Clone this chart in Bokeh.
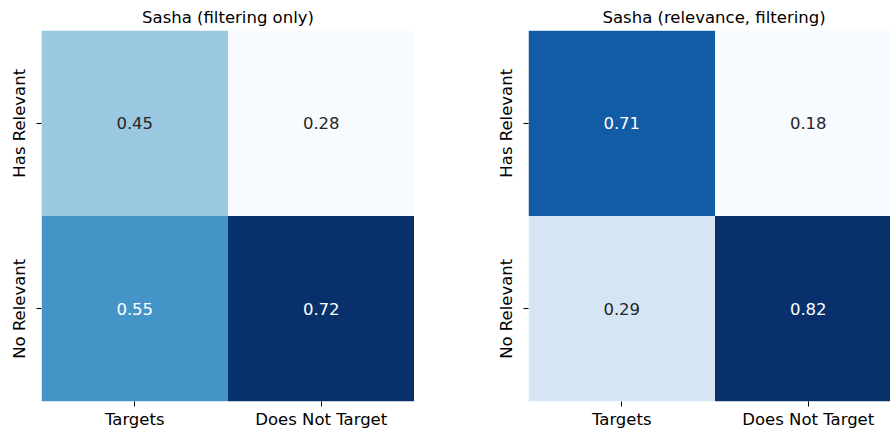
from bokeh.plotting import figure
from bokeh.layouts import row
from bokeh.models import LinearColorMapper, FixedTicker, Range1d, ColumnDataSource
from bokeh.palettes import Blues256
from bokeh.transform import transform
from bokeh.embed import file_html
from bokeh.resources import INLINE
from bokeh.core.properties import value

x_labels = ["Targets", "Does Not Target"]
y_labels = ["Has Relevant", "No Relevant"]

left_title = "Sasha (filtering only)"
left_values = [[0.45, 0.28],
               [0.55, 0.72]]

right_title = "Sasha (relevance, filtering)"
right_values = [[0.71, 0.18],
                [0.29, 0.82]]

FONT = "DejaVu Sans"
FS = "16.5px"
DARK = "#262626"


def make(values, title, x_end, border_left, frame_width, title_align, title_offset):
    xs, ys, vs, labels, tcolors = [], [], [], [], []
    flat = [v for r in values for v in r]
    lo, hi = min(flat), max(flat)
    for i, r in enumerate(values):
        for j, v in enumerate(r):
            xs.append(j)
            ys.append(i)
            vs.append(v)
            labels.append(f"{v:.2f}")
            tcolors.append("white" if (v - lo) / (hi - lo) > 0.5 else DARK)
    src = ColumnDataSource(dict(x=xs, y=ys, v=vs, label=labels, tc=tcolors))
    mapper = LinearColorMapper(palette=list(reversed(Blues256)), low=lo, high=hi)

    p = figure(x_range=Range1d(-0.5, x_end), y_range=Range1d(1.5, -0.5),
               frame_width=frame_width, frame_height=371,
               min_border_left=border_left, min_border_right=0,
               min_border_top=30, min_border_bottom=28,
               toolbar_location=None, output_backend="svg", tools="")
    p.rect(x="x", y="y", width=1, height=1, source=src,
           fill_color=transform("v", mapper), line_color=None)
    p.text(x="x", y="y", text="label", source=src, text_color="tc",
           text_align="center", text_baseline="middle",
           text_font=value(FONT), text_font_size=FS)

    p.title.text = title
    p.title.text_font = FONT
    p.title.text_font_size = FS
    p.title.text_font_style = "normal"
    p.title.text_color = "black"
    p.title.align = title_align
    p.title.offset = title_offset
    p.title.standoff = 6
    p.title.vertical_align = "middle"

    p.xgrid.visible = False
    p.ygrid.visible = False
    p.outline_line_color = None

    p.xaxis.ticker = FixedTicker(ticks=[0, 1])
    p.xaxis.major_label_overrides = {0: x_labels[0], 1: x_labels[1]}
    p.yaxis.ticker = FixedTicker(ticks=[0, 1])
    p.yaxis.major_label_overrides = {0: y_labels[0], 1: y_labels[1]}
    p.yaxis.major_label_orientation = "vertical"
    for ax in (p.xaxis, p.yaxis):
        ax.axis_line_color = None
        ax.major_tick_in = 0
        ax.major_tick_out = 5
        ax.major_tick_line_color = "black"
        ax.minor_tick_line_color = None
        ax.major_label_text_font = FONT
        ax.major_label_text_font_size = FS
        ax.major_label_text_color = "black"
        ax.major_label_standoff = 3
    p.yaxis.major_label_standoff = 8
    return p


p1 = make(left_values, left_title, 1.5, 41, 373, "center", 0)
p2 = make(right_values, right_title, -0.5 + 362 / 186.5, 114, 362, "left", 74)

layout = row(p1, p2)
open("out.html", "w").write(file_html(layout, INLINE))
